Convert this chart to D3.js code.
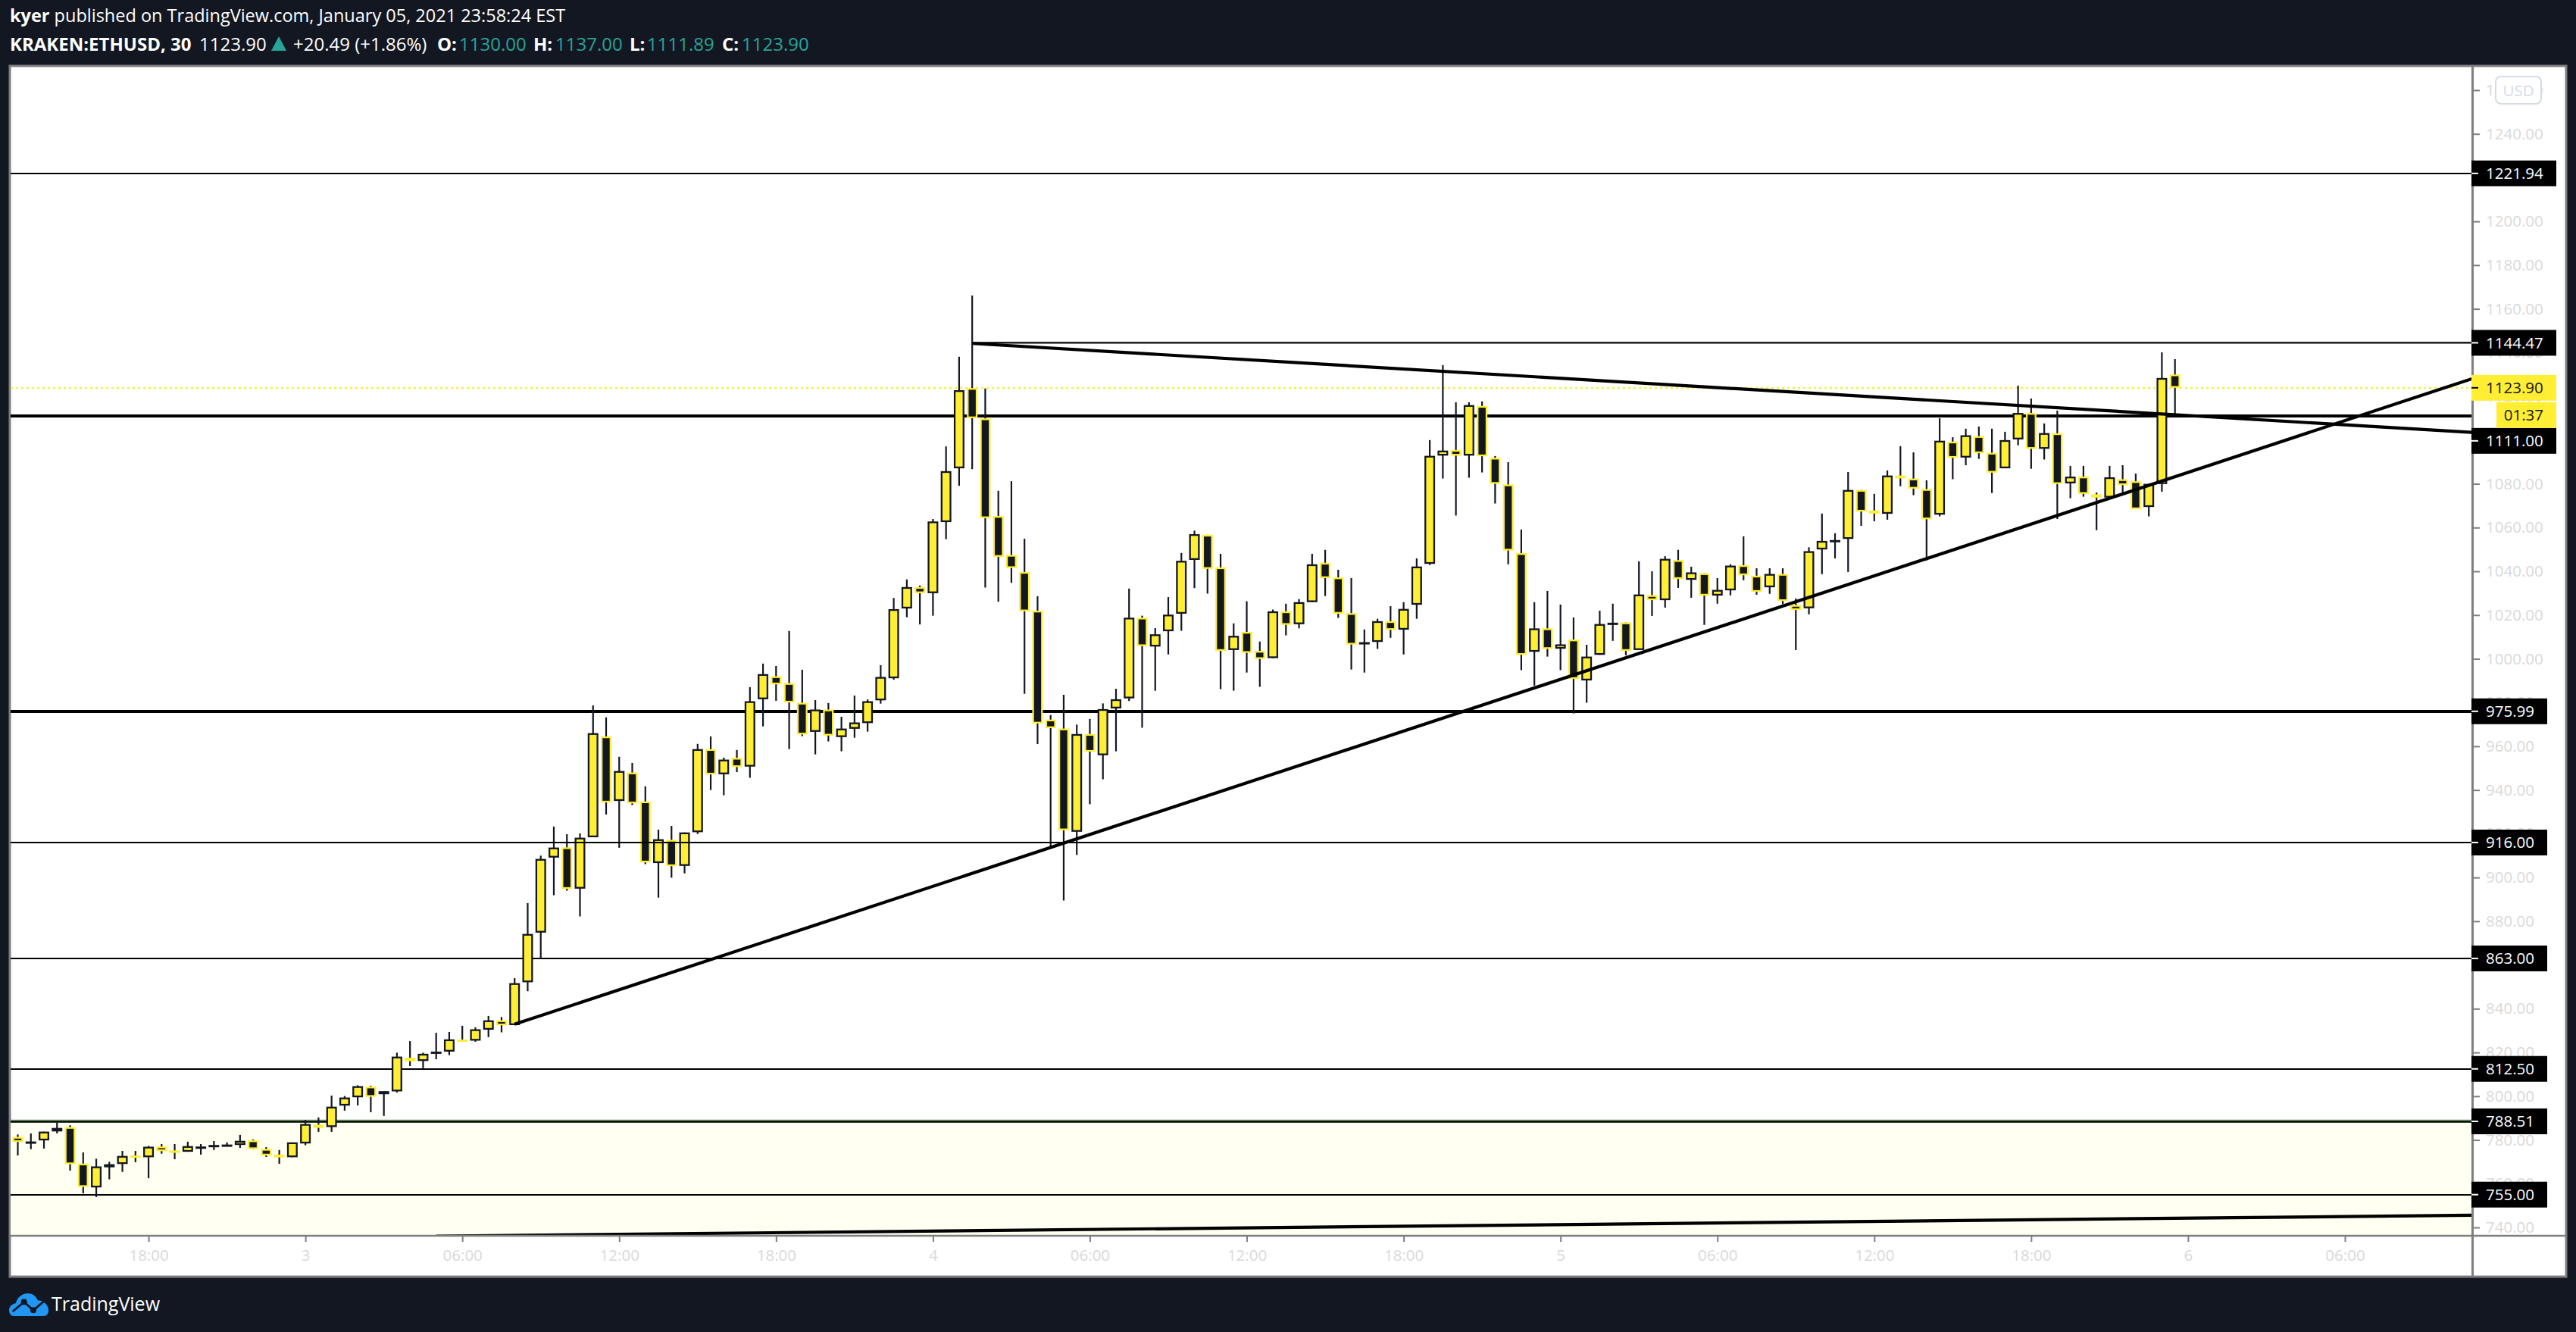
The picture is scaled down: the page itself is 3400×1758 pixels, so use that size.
<!DOCTYPE html>
<html>
<head>
<meta charset="utf-8">
<title>KRAKEN:ETHUSD, 30</title>
<script src="https://cdn.jsdelivr.net/npm/d3@7"></script>
<style>
  html, body { margin: 0; padding: 0; background: #131722; }
  svg { display: block; }
  .hdr { font-family: "Open Sans", sans-serif; fill: #fff; }
  .axis-txt { font-family: "Open Sans", sans-serif; font-size: 20.5px; }
</style>
</head>
<body>
<svg id="chart" width="3400" height="1758"></svg>
<script>
// ---- data ----
const opens = [
  781.4,779.2,779.8,783.9,785.9,769.2,758.3,767.5,769,772.9,
  772.1,777,775.2,774.6,776.9,776.9,777.8,777.7,779.8,775.9,
  773.3,772.1,778.4,787,785.9,795.7,799.5,804.4,800.9,802.2,
  817.6,816.1,819.5,820.4,825.9,825.4,830.4,834.7,832.5,852.1,
  874.8,909.1,913.8,894.9,918.4,964.5,935,948,934.8,906.6,
  917.2,905.3,920.7,958.7,947.2,954.7,950.7,981.5,992,988.9,
  979.9,966.6,976.8,964.2,968,970.6,981,991.1,1023,1032.8,
  1030,1062.5,1087.1,1123.8,1109.9,1065.3,1047.5,1039.7,1022,972.2,
  968.1,920.9,965.6,955.9,977.3,981.9,1018.8,1005.6,1012.6,1020.6,
  1045.2,1056.7,1041.8,1004,1012.3,1003.6,1000.3,1021.7,1015.8,1025.9,
  1043.9,1037.2,1020.9,1007.5,1007.7,1017.2,1013.3,1024.7,1043.4,1092.9,
  1095.5,1092.9,1115.6,1091.9,1079.7,1048.3,1003.2,1013.9,1004.6,1008.8,
  990.1,1001.8,1016.3,1016.6,1004,1029.1,1026.8,1045.1,1036.1,1039.1,
  1028.9,1031.3,1042.8,1038,1032.7,1038.8,1024.6,1023.1,1050,1054.2,
  1054.8,1077.2,1067.8,1066.3,1083.8,1082.4,1077.6,1065.9,1099.3,1092,
  1101.8,1094.2,1087.1,1100.3,1112.4,1096,1103.1,1080.2,1083.3,1075.2,
  1073.7,1082.1,1081.2,1069.4,1079.9,1130
];
const closes = [
  779.1,779.3,783.8,785.5,768.9,758.5,767.9,768.9,772.7,772,
  776.9,774.9,774.1,777.2,777,777.7,777.9,779.6,775.8,772.9,
  772,778.9,787.3,785.5,795.2,799.4,804.6,799.7,802.3,818.1,
  816,819.4,820.4,826,824.9,830.6,834.7,832.4,851.7,874.2,
  908.5,913.7,894.8,918.2,966,934.3,948.7,933.9,906.9,917.5,
  905.2,920.6,958.7,947.1,953.9,950.5,980.6,993,988.3,980,
  965.4,976.8,964.9,968.1,970.9,980.6,991.7,1022.7,1032.8,1030,
  1062.8,1085.8,1122.8,1110,1064.3,1046.6,1041.5,1021.7,970.4,968.3,
  921.6,965.6,957.5,977,981.5,1018.8,1005.8,1011.2,1020.2,1044.8,
  1057,1041.1,1003.6,1010.5,1002.7,999.9,1021.7,1015.5,1025.9,1043.2,
  1036.9,1020.6,1006.5,1007.6,1017.2,1013.2,1022.8,1042.2,1092.8,1095.2,
  1092.9,1116,1092.6,1080,1049.5,1001.8,1013.9,1004.5,1006.6,990.8,
  1001,1015.9,1016.5,1003.6,1029.4,1026.8,1045.7,1036.5,1039.5,1028.9,
  1031.5,1042.6,1038.2,1030.6,1038.8,1026.4,1022.3,1049.2,1053.9,1054.3,
  1077.2,1067.3,1066.4,1083.8,1082.5,1077.8,1063.8,1099.7,1091.9,1102.2,
  1094,1085.1,1100,1112.4,1096,1103.2,1079.9,1083.3,1075.4,1073.7,
  1083,1079.4,1068.4,1080,1128.4,1123.9
];
const highs = [
  782.5,783,783.8,788,786.7,774.3,771.4,770,775,775,
  777.3,778.1,778.1,779.2,778.1,779.5,778.9,782.3,780.2,776.7,
  775.4,778.9,789.1,790.3,800.3,800.1,805,804.8,802.3,819.9,
  825.2,819.9,829,829.4,832.2,831.5,836.7,836.2,854,888.3,
  910,923.3,919.8,920.2,978.7,973.2,955.2,952.4,941.7,921.9,
  923.6,920.6,961.1,964.5,954.8,958.3,987,997.8,996.7,1012.7,
  995,981.1,979.8,973.5,983.2,981.4,997.1,1027.8,1036.3,1033.5,
  1063.9,1097.1,1138.1,1166.1,1123.6,1076.8,1081.2,1054.9,1028.6,974.3,
  983.5,969.9,972.5,979.6,986.3,1032.1,1019.7,1014,1028.2,1048.4,
  1058.6,1056.7,1048,1016.2,1026.3,1007.9,1022.5,1025.2,1027.3,1048,
  1049.8,1040.7,1036.9,1013.4,1018.3,1024.1,1025.9,1045.9,1100,1134.3,
  1117.3,1117.3,1117.7,1092.7,1089.9,1059.1,1025.9,1031,1024.8,1018.9,
  1006.4,1022,1025.2,1016.6,1044.6,1040,1046.9,1049.8,1042.1,1039.1,
  1036.9,1043.2,1056,1041.4,1041.4,1041.4,1027.6,1051,1066.4,1057.4,
  1085.4,1077.2,1075.4,1086.1,1097.2,1094.4,1081.6,1110,1101.3,1105.2,
  1106.2,1105.2,1103.8,1124.9,1119,1107.6,1113.5,1088.2,1088.2,1076,
  1088.2,1088.5,1084.7,1080,1140.1,1137
];
const lows = [
  772.9,775.8,776.1,783,766,755.6,753.9,762,765.4,769.8,
  762.5,773.7,771.2,774.6,773.3,775.4,777.2,776.4,775.8,772.2,
  769.1,772.1,777.6,783.7,783.7,793.4,795.8,792.7,791,801.7,
  813.8,812.8,816.9,818.8,824.9,824.9,827,829.2,832.5,848,
  863.2,891.9,894,882.2,918.4,928.8,913.6,933.1,906.1,890.8,
  899.9,901.9,919.9,940,937.6,948.2,945.6,969.1,980.8,958.7,
  964.6,956.3,962.2,957.7,963.9,966.7,979.5,990.4,1019,1015.7,
  1019.7,1054.7,1079.1,1086.7,1032.6,1026.1,1034.7,984,961,914.2,
  889.5,910.3,933.5,944.9,957.7,980.7,968.5,985.4,1002,1012.8,
  1032.3,1029.8,986.1,985.4,993.7,987.2,1000.3,1010.7,1013.9,1025.9,
  1028.7,1018.7,995.1,993.7,1004.5,1009.6,1002,1018.3,1042.9,1082.4,
  1065.5,1082.8,1085.2,1071,1043.2,994.8,987.7,1001,994.8,975,
  979.9,1001.8,1008.2,1001.6,1004,1019.6,1023.4,1032.4,1027.9,1015.5,
  1025.2,1029,1035.9,1029.3,1029.7,1025,1004,1020.3,1038.7,1045.9,
  1039.7,1060.8,1062.9,1063.6,1078.9,1074.8,1045,1065.1,1082.1,1088.5,
  1091.4,1075.8,1087.1,1097.6,1086.9,1091.1,1063.9,1073.4,1074.1,1058.8,
  1073.2,1076,1068.4,1065.1,1076.4,1111.9
];

const priceTicks = [740,760,780,800,820,840,860,880,900,920,940,960,980,1000,1020,1040,1060,1080,1100,1120,1140,1160,1180,1200,1220,1240,1260];
const timeLabels = ["18:00","3","06:00","12:00","18:00","4","06:00","12:00","18:00","5","06:00","12:00","18:00","6","06:00"];
const levelValues = [1221.94,1111,975.99,916,863,812.5,788.51,755];
const levelLabels = [1221.94,1144.47,1111,975.99,916,863,812.5,788.51,755];
const lastPrice = 1123.9;
const countdown = "01:37";
// trend lines as [bar, price] ends
const risingLine = [[38,832.9],[188.1,1128.8]];
const fallingLine = [[73,1144.2],[188.1,1103.4]];
const floorLine = [[32,736],[188.1,745.6]];
const headLine = [[73,1144.47],[188.1,1144.47]];
const zoneTop = 788.51;

// ---- layout ----
const W = 3400, H = 1758;
const pane = { left: 14, top: 88, right: 3262, bottom: 1630 };
const frame = { left: 13, top: 87, right: 3387, bottom: 1685 };
const DARK = "#131722", YEL = "#ffee33", GRID = "#7f7f7f", TXT = "#d9d9d9";

const x = d3.scaleLinear().domain([0,178]).range([23.5,3095]);
const y = d3.scaleLinear().domain([740,1240]).range([1620,176.7]);
const ry = v => Math.round(y(v));

const svg = d3.select("#chart");
svg.append("rect").attr("width",W).attr("height",H).attr("fill",DARK);
svg.append("rect")
  .attr("x",frame.left).attr("y",frame.top)
  .attr("width",frame.right-frame.left).attr("height",frame.bottom-frame.top)
  .attr("fill","#fff").attr("stroke",GRID).attr("stroke-width",3);

svg.append("defs").append("clipPath").attr("id","pane-clip").append("rect")
  .attr("x",pane.left).attr("y",pane.top)
  .attr("width",pane.right-pane.left).attr("height",pane.bottom-pane.top);

const plot = svg.append("g").attr("clip-path","url(#pane-clip)");

// zone under the 788.51 level
plot.append("rect")
  .attr("x",pane.left).attr("width",pane.right-pane.left)
  .attr("y",y(zoneTop)).attr("height",pane.bottom-y(zoneTop))
  .attr("fill","#fffff2");
plot.append("line")
  .attr("x1",pane.left).attr("x2",pane.right)
  .attr("y1",ry(zoneTop)-1.5).attr("y2",ry(zoneTop)-1.5)
  .attr("stroke","#5f9f4f").attr("stroke-width",1.5);

// last price dotted line
plot.append("line")
  .attr("x1",pane.left).attr("x2",pane.right)
  .attr("y1",ry(lastPrice)).attr("y2",ry(lastPrice))
  .attr("stroke",YEL).attr("stroke-width",2.5).attr("stroke-dasharray","3 4");

// levels behind the candles
const lvlWidth = v => (v===1111||v===975.99) ? 4 : (v===788.51 ? 2.6 : 2.2);
plot.selectAll("line.level").data(levelValues.filter(v => v!==916)).enter().append("line")
  .attr("class","level")
  .attr("x1",pane.left).attr("x2",pane.right)
  .attr("y1",d=>ry(d)+(d===788.51?0.5:0)).attr("y2",d=>ry(d)+(d===788.51?0.5:0))
  .attr("stroke","#000").attr("stroke-width",lvlWidth);

// candles
const bars = d3.range(opens.length);
const bodyW = 14, inset = 2.3;
plot.selectAll("line.wick").data(bars).enter().append("line")
  .attr("class","wick")
  .attr("x1",i=>x(i)).attr("x2",i=>x(i))
  .attr("y1",i=>y(highs[i])).attr("y2",i=>y(lows[i]))
  .attr("stroke",DARK).attr("stroke-width",2.2);

const bodyTop = i => Math.min(y(opens[i]),y(closes[i]));
const bodyH = i => Math.max(3,Math.abs(y(opens[i])-y(closes[i])));
const isUp = i => closes[i] >= opens[i];

plot.selectAll("rect.body").data(bars).enter().append("rect")
  .attr("class","body")
  .attr("x",i=>x(i)-bodyW/2).attr("width",bodyW)
  .attr("y",bodyTop).attr("height",bodyH)
  .attr("fill",i=>isUp(i)?DARK:YEL);
plot.selectAll("rect.inner").data(bars.filter(i=>bodyH(i)>2*inset)).enter().append("rect")
  .attr("class","inner")
  .attr("x",i=>x(i)-bodyW/2+inset).attr("width",bodyW-2*inset)
  .attr("y",i=>bodyTop(i)+inset).attr("height",i=>bodyH(i)-2*inset)
  .attr("fill",i=>isUp(i)?YEL:DARK);

// 916 sits on top of the candles
plot.append("line")
  .attr("x1",pane.left).attr("x2",pane.right)
  .attr("y1",ry(916)).attr("y2",ry(916))
  .attr("stroke","#000").attr("stroke-width",2.2);

// drawn lines
const lineGen = d3.line().x(d=>x(d[0])).y(d=>y(d[1]));
plot.append("path").attr("d",lineGen(headLine)).attr("fill","none").attr("stroke","#000").attr("stroke-width",2.2);
[risingLine,fallingLine,floorLine].forEach(pts => {
  plot.append("path").attr("d",lineGen(pts)).attr("fill","none").attr("stroke","#000").attr("stroke-width",4.2);
});

// axis furniture
svg.append("line").attr("x1",frame.left).attr("x2",frame.right).attr("y1",pane.bottom+1).attr("y2",pane.bottom+1)
  .attr("stroke",GRID).attr("stroke-width",2.5);
svg.append("line").attr("x1",pane.right+1.5).attr("x2",pane.right+1.5).attr("y1",frame.top).attr("y2",frame.bottom)
  .attr("stroke",GRID).attr("stroke-width",3);

// price axis
const yAxis = d3.axisRight(y).tickValues(priceTicks).tickSize(8).tickPadding(8).tickFormat(d3.format(".2f"));
const yG = svg.append("g").attr("transform",`translate(${pane.right+3},0)`).call(yAxis);
yG.select(".domain").remove();
yG.selectAll("line").attr("stroke",GRID).attr("stroke-width",2);
yG.selectAll("text").attr("class","axis-txt").attr("fill",TXT);

// time axis
const xTicks = timeLabels.map((d,k)=>10+12*k);
const xAxis = d3.axisBottom(x).tickValues(xTicks).tickSize(7).tickPadding(10).tickFormat((d,k)=>timeLabels[k]);
const xG = svg.append("g").attr("transform",`translate(0,${pane.bottom+2})`).call(xAxis);
xG.select(".domain").remove();
xG.selectAll("line").attr("stroke",GRID).attr("stroke-width",2);
xG.selectAll("text").attr("class","axis-txt").attr("fill",TXT);

// USD chip
svg.append("rect").attr("x",3294).attr("y",101).attr("width",60).attr("height",36).attr("rx",7)
  .attr("fill","#fff").attr("stroke","#d6dae6").attr("stroke-width",2);
svg.append("text").attr("class","axis-txt").attr("x",3324).attr("y",126.5).attr("text-anchor","middle")
  .attr("fill","#d6dae6").text("USD");

// price labels, the 1111 one is pushed below the countdown like the app does
const labelH = 34;
const cdTop = y(lastPrice)+labelH/2+2;
const labelY = v => v===1111 ? cdTop+labelH+labelH/2 : y(v);
const labelW = v => v>=1000 ? 112 : 100;
const fmt = d3.format(".2f");
const lbl = svg.selectAll("g.pl").data(levelLabels).enter().append("g").attr("class","pl")
  .attr("transform",d=>`translate(${pane.right},${labelY(d)})`);
lbl.append("rect").attr("y",-labelH/2).attr("width",labelW).attr("height",labelH).attr("fill","#000");
lbl.append("line").attr("x1",0).attr("x2",9).attr("stroke","#fff").attr("stroke-width",2);
lbl.append("text").attr("class","axis-txt").attr("x",19).attr("dy","0.36em").attr("fill","#fff").text(fmt);

const lastG = svg.append("g").attr("transform",`translate(${pane.right},${y(lastPrice)})`);
lastG.append("rect").attr("y",-labelH/2).attr("width",112).attr("height",labelH).attr("fill",YEL);
lastG.append("line").attr("x1",0).attr("x2",9).attr("stroke","#000").attr("stroke-width",2);
lastG.append("text").attr("class","axis-txt").attr("x",19).attr("dy","0.36em").attr("fill","#131722").text(fmt(lastPrice));
svg.append("rect").attr("x",pane.right+33).attr("y",cdTop).attr("width",79).attr("height",labelH).attr("fill",YEL);
svg.append("text").attr("class","axis-txt").attr("x",pane.right+95).attr("y",cdTop+labelH/2).attr("dy","0.36em")
  .attr("text-anchor","end").attr("fill","#131722").text(countdown);

// header
const hdr = svg.append("g").attr("class","hdr").attr("font-size",23.5);
const line1 = hdr.append("text").attr("x",13).attr("y",29);
line1.append("tspan").attr("font-weight",700).text("kyer");
line1.append("tspan").text(" published on TradingView.com, January 05, 2021 23:58:24 EST");
const headBits = [
  [13,"KRAKEN:ETHUSD, 30",true,"#fff"],[263,"1123.90",false,"#fff"],[387,"+20.49 (+1.86%)",false,"#fff"],
  [577,"O:",true,"#fff"],[606,"1130.00",false,"#26a69a"],[704,"H:",true,"#fff"],[733,"1137.00",false,"#26a69a"],
  [831,"L:",true,"#fff"],[854,"1111.89",false,"#26a69a"],[953,"C:",true,"#fff"],[979,"1123.90",false,"#26a69a"]
];
headBits.forEach(([px,t,b,c]) => {
  hdr.append("text").attr("x",px).attr("y",67).attr("font-size",24).attr("font-weight",b?700:400).attr("fill",c).text(t);
});
svg.append("path").attr("d","M358 67 L368 48 L378 67 Z").attr("fill","#26a69a");

// logo
const logo = svg.append("g").attr("transform","translate(12,1707)");
logo.append("path").attr("fill","#2196f3")
  .attr("d","M0 22 C0 17 4 14 9 13 C10 6 17 0 25 0 C31 0 36 4 38 9.5 C40 9 43 10 46 12 C50 14 52 19 52 23 C52 27 49 30 46 30 L6 30 C2 30 0 26 0 22 Z");
logo.append("path").attr("fill","none").attr("stroke",DARK).attr("stroke-width",2.8)
  .attr("d","M4.7 24 L19.7 11.3 L32 22.3 L45.3 11");
logo.append("circle").attr("cx",19.7).attr("cy",11.3).attr("r",4).attr("fill",DARK);
logo.append("circle").attr("cx",32).attr("cy",22.3).attr("r",4).attr("fill",DARK);
svg.append("text").attr("x",68).attr("y",1730).attr("font-family","'Open Sans',sans-serif").attr("font-size",25)
  .attr("fill","#fff").text("TradingView");
</script>
</body>
</html>
